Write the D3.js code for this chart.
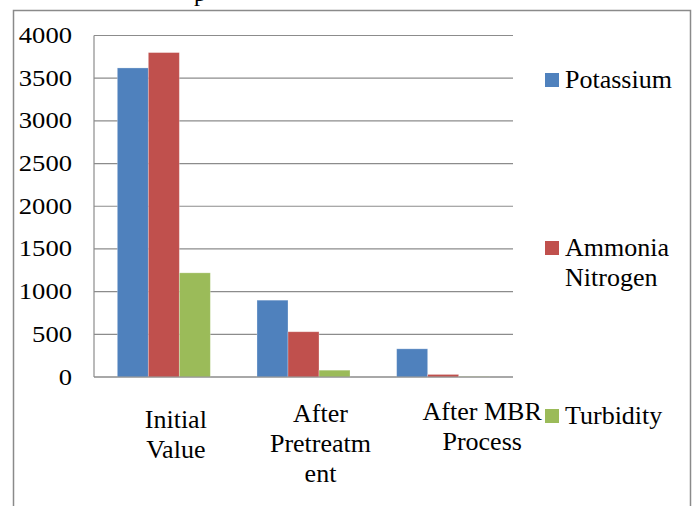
<!DOCTYPE html>
<html>
<head>
<meta charset="utf-8">
<script src="https://cdn.jsdelivr.net/npm/d3@7"></script>
<style>
  html, body { margin: 0; padding: 0; background: #fff; }
  svg { display: block; }
</style>
</head>
<body>
<svg id="chart" width="695" height="506"></svg>
<script>
// ---- data ----
const categories = ["Initial Value", "After Pretreatment", "After MBR Process"];
const categoryLines = [["Initial", "Value"], ["After", "Pretreatm", "ent"], ["After MBR", "Process"]];
const seriesNames = ["Potassium", "Ammonia Nitrogen", "Turbidity"];
const seriesLegendLines = [["Potassium"], ["Ammonia", "Nitrogen"], ["Turbidity"]];
const potassium = [3620, 900, 330];
const ammoniaNitrogen = [3800, 530, 30];
const turbidity = [1220, 80, 4];
const yTicks = [0, 500, 1000, 1500, 2000, 2500, 3000, 3500, 4000];

// ---- layout / style ----
const seriesValues = [potassium, ammoniaNitrogen, turbidity];
const colors = ["#4f81bd", "#c0504d", "#9bbb59"];
const plot = { left: 94, right: 513, top: 35.5, bottom: 377 };
const labelShift = [12, 17, 39];
const labelTop = [427.7, 421.7, 420];
const legendY = [87, 255, 423];
const FONT = "Liberation Serif";

const svg = d3.select("#chart");

// outer chart border
svg.append("path")
  .attr("d", "M13.5,520 V10.5 H690.5 V520")
  .attr("fill", "none").attr("stroke", "#8a8a8a").attr("stroke-width", 1.5);

// cut-off caption text at top
svg.append("text").attr("x", 194).attr("y", 1).style("font-family", FONT)
  .style("font-size", "24px").text("p");

const x = d3.scaleBand().domain(categories).range([plot.left, plot.right])
  .paddingInner(0.334).paddingOuter(0.167);
const xs = d3.scaleBand().domain(seriesNames).range([0, x.bandwidth()]);
const y = d3.scaleLinear().domain([0, 4000]).range([plot.bottom, plot.top]);

// gridlines
svg.append("g").selectAll("line").data(yTicks).join("line")
  .attr("x1", plot.left).attr("x2", plot.right)
  .attr("y1", d => y(d)).attr("y2", d => y(d))
  .attr("stroke", "#8c8c8c").attr("stroke-width", 1.2);

// y axis line
svg.append("line").attr("x1", plot.left).attr("x2", plot.left)
  .attr("y1", y(4000)).attr("y2", y(0))
  .attr("stroke", "#8c8c8c").attr("stroke-width", 1.2);

// y tick labels
svg.append("g").selectAll("text").data(yTicks).join("text")
  .attr("x", 72).attr("y", d => y(d) + 7.5)
  .attr("text-anchor", "end")
  .attr("textLength", d => String(d).length * 13.3).attr("lengthAdjust", "spacingAndGlyphs")
  .style("font-family", FONT).style("font-size", "23px")
  .text(d => d);

// bars
seriesNames.forEach((s, si) => {
  svg.append("g").selectAll("rect").data(categories).join("rect")
    .attr("x", c => x(c) + xs(s))
    .attr("width", xs.bandwidth())
    .attr("y", (c, ci) => y(seriesValues[si][ci]))
    .attr("height", (c, ci) => y(0) - y(seriesValues[si][ci]))
    .attr("fill", colors[si])
    .attr("stroke", "rgba(255,255,255,0.35)").attr("stroke-width", 0.8);
});

// redraw baseline on top
svg.append("line").attr("x1", plot.left).attr("x2", plot.right)
  .attr("y1", y(0)).attr("y2", y(0))
  .attr("stroke", "#8c8c8c").attr("stroke-width", 1.2);

// category labels
categories.forEach((c, ci) => {
  const t = svg.append("text")
    .attr("text-anchor", "middle").style("font-family", FONT).style("font-size", "26px");
  categoryLines[ci].forEach((line, li) => {
    t.append("tspan")
      .attr("x", x(c) + x.bandwidth() / 2 + labelShift[ci])
      .attr("y", labelTop[ci] + li * 30)
      .text(line);
  });
});

// legend
seriesNames.forEach((s, si) => {
  const g = svg.append("g");
  g.append("rect").attr("x", 545).attr("y", legendY[si] - 14)
    .attr("width", 14).attr("height", 14).attr("fill", colors[si]);
  const t = g.append("text").style("font-family", FONT).style("font-size", "26px");
  seriesLegendLines[si].forEach((line, li) => {
    t.append("tspan").attr("x", 565).attr("y", legendY[si] + 1 + li * 29.5).text(line);
  });
});
</script>
</body>
</html>
